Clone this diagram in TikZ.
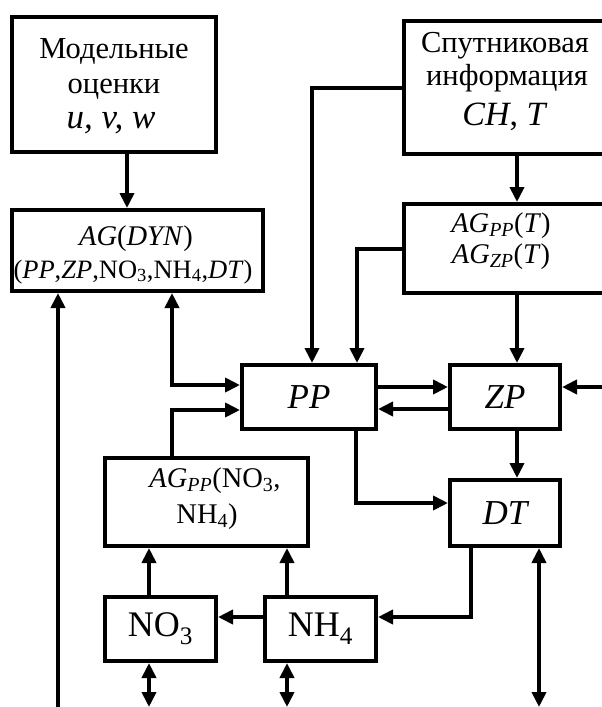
\documentclass[tikz,border=0pt]{standalone}
\usepackage{fontspec}
\setmainfont{Liberation Serif}
\usetikzlibrary{arrows.meta,calc}
\newcommand{\sbs}[1]{\textsubscript{#1}}
\begin{document}
\begin{tikzpicture}[x=1pt,y=-1pt,
  box/.style={draw, line width=4pt, rectangle, inner sep=0pt, align=center},
  arr/.style={-{Triangle[length=15pt,width=14pt]}, line width=4pt},
  dbl/.style={{Triangle[length=15pt,width=14pt]}-{Triangle[length=15pt,width=14pt]}, line width=4pt},
  ln/.style={anchor=base, inner sep=0pt},
  cyr/.style={font=\fontsize{30.5}{36}\selectfont},
  ital/.style={font=\fontsize{35}{40}\selectfont\itshape},
  huge/.style={font=\fontsize{35}{40}\selectfont}]
\useasboundingbox (0,0) rectangle (602,707);

% boxes
\node[box, minimum width=204pt, minimum height=135pt] (m) at (114,84.5) {};
\node[ln, cyr] (m1) at (114,58) {Модельные};
\node[ln, cyr] (m2) at (114,93) {оценки};
\node[ln, ital] (m3) at (111,128) {u, v, w};

\node[box, minimum width=251pt, minimum height=81pt] (agdyn) at (137.5,250.5) {};
\node[ln, font=\fontsize{28.5}{30}\selectfont] (d1) at (136,245) {\textit{AG}(\textit{DYN})};
\node[ln, font=\fontsize{26.5}{30}\selectfont] (d2) at (133,278)
  {(\textit{PP},\textit{ZP},NO\sbs{3},NH\sbs{4},\textit{DT})};

\node[box, minimum width=240pt, minimum height=133pt, anchor=north west] (sat) at (402,19) {};
\node[ln, cyr] (s1) at (505,52) {Спутниковая};
\node[ln, cyr] (s2) at (507,85) {информация};
\node[ln, font=\fontsize{34}{40}\selectfont\itshape] (s3) at (504,125) {CH\upshape, \itshape T};

\node[box, minimum width=240pt, minimum height=89pt, anchor=north west] (agt) at (402,202) {};
\node[ln, font=\fontsize{28.5}{32}\selectfont] (t1) at (501,232) {\textit{AG}\sbs{\textit{PP}}(\textit{T})};
\node[ln, font=\fontsize{28.5}{32}\selectfont] (t2) at (501,263) {\textit{AG}\sbs{\textit{ZP}}(\textit{T})};

\node[box, ital, minimum width=134pt, minimum height=64pt] (PP) at (309,397) {PP};
\node[box, ital, minimum width=110pt, minimum height=64pt] (ZP) at (505,397) {ZP};
\node[box, ital, minimum width=110pt, minimum height=66pt] (DT) at (505,513) {DT};

\node[box, minimum width=203pt, minimum height=88pt] (agpp) at (206.5,502) {};
\node[ln, font=\fontsize{28.5}{32}\selectfont] (a1) at (215,487) {\textit{AG}\sbs{\textit{PP}}(NO\sbs{3},};
\node[ln, font=\fontsize{28.5}{32}\selectfont] (a2) at (207,523) {NH\sbs{4})};

\node[box, font=\fontsize{36}{40}\selectfont, minimum width=111pt, minimum height=64pt] (NO3) at (160.5,629) {NO\sbs{3}};
\node[box, font=\fontsize{36}{40}\selectfont, minimum width=111pt, minimum height=64pt] (NH4) at (320.5,629) {NH\sbs{4}};

% helper coordinates
\coordinate (xL) at (58,0);
\coordinate (xA) at (172,0);
\coordinate (xB) at (312,0);
\coordinate (xC) at (357,0);
\coordinate (xP) at (356,0);
\coordinate (xD) at (517,0);
\coordinate (xT) at (471,0);
\coordinate (xE) at (149,0);
\coordinate (xF) at (287,0);
\coordinate (xG) at (539,0);
\coordinate (bot) at (0,707);
\coordinate (rgt) at (610,0);
\coordinate (zpin) at ([yshift=10pt]ZP.east);

% connectors
\draw[arr] ([xshift=13pt]m.south) -- ([xshift=13pt]m.south |- agdyn.north);
\draw[arr] (xL |- bot) -- (xL |- agdyn.south);
\draw[dbl] (xA |- agdyn.south) |- ([yshift=12pt]PP.west);
\draw[arr] (xA |- agpp.north) |- ([yshift=-13pt]PP.west);
\draw[arr] (sat.west) -| (xB |- PP.north);
\draw[arr] (agt.west) -| (xC |- PP.north);
\draw[arr] (xD |- sat.south) -- (xD |- agt.north);
\draw[arr] (xD |- agt.south) -- (xD |- ZP.north);
\draw[arr] ([yshift=10pt]PP.east) -- ([yshift=10pt]ZP.west);
\draw[arr] ([yshift=-12pt]ZP.west) -- ([yshift=-12pt]PP.east);
\draw[arr] (rgt |- zpin) -- (zpin);
\draw[arr] (xD |- ZP.south) -- (xD |- DT.north);
\draw[arr] (xP |- PP.south) |- ([yshift=10pt]DT.west);
\draw[arr] (xT |- DT.south) |- ([yshift=12pt]NH4.east);
\draw[arr] ([yshift=12pt]NH4.west) -- ([yshift=12pt]NO3.east);
\draw[arr] (xE |- NO3.north) -- (xE |- agpp.south);
\draw[arr] (xF |- NH4.north) -- (xF |- agpp.south);
\draw[dbl] (xE |- NO3.south) -- (xE |- bot);
\draw[dbl] (xF |- NH4.south) -- (xF |- bot);
\draw[dbl] (xG |- DT.south) -- (xG |- bot);
\end{tikzpicture}
\end{document}
